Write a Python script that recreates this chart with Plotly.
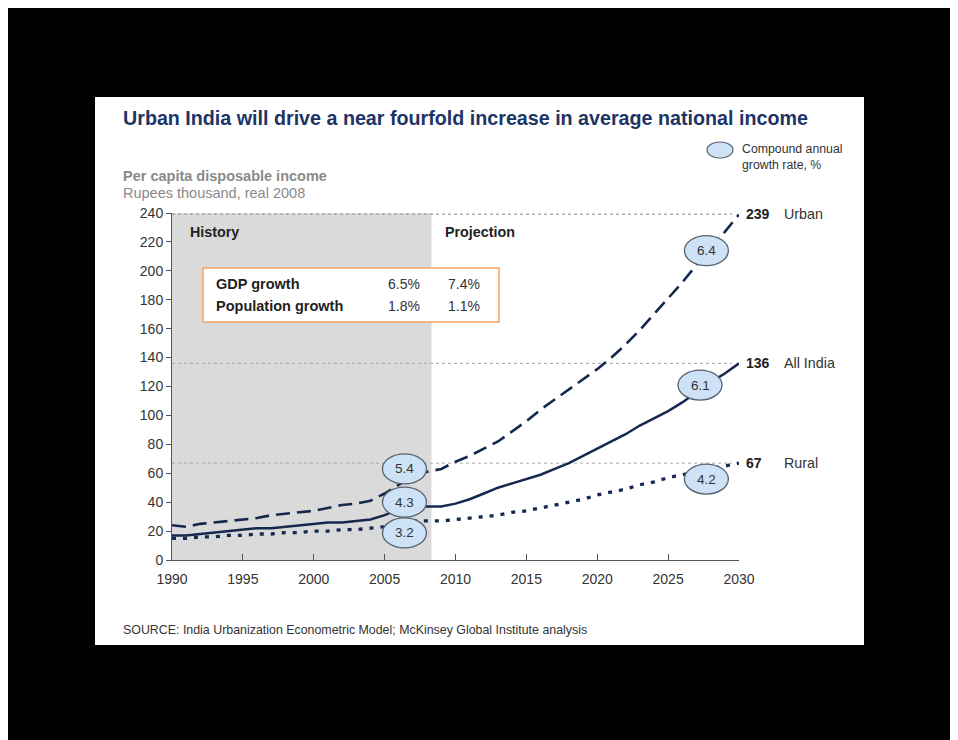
import plotly.graph_objects as go

# ---------------- data ----------------
years = list(range(1990, 2031))
urban = [24, 23, 25, 26, 27, 28, 29, 31, 32, 33, 34, 36, 38, 39, 41, 46, 52, 58, 61, 63,
         68, 72, 77, 82, 89, 96, 104, 111, 118, 125, 132, 140, 149, 159, 170, 181, 192, 204, 216, 227, 239]
all_india = [17, 17, 18, 19, 20, 21, 22, 22, 23, 24, 25, 26, 26, 27, 28, 31, 35, 37, 37, 37,
             39, 42, 46, 50, 53, 56, 59, 63, 67, 72, 77, 82, 87, 93, 98, 103, 109, 116, 123, 129, 136]
rural = [15, 15, 16, 16, 17, 17, 18, 18, 19, 19, 20, 20, 21, 21, 22, 23, 25, 27, 27, 27,
         28, 29, 30, 31, 33, 34, 36, 38, 40, 42, 45, 47, 49, 52, 54, 57, 59, 61, 63, 65, 67]

series_names = ["Urban", "All India", "Rural"]
end_values = [239, 136, 67]
cagr_history = ["5.4", "4.3", "3.2"]
cagr_projection = ["6.4", "6.1", "4.2"]
history_end = 2008.3

table_rows = ["GDP growth", "Population growth"]
table_history = ["6.5%", "1.8%"]
table_projection = ["7.4%", "1.1%"]

y_ticks = list(range(0, 241, 20))
x_ticks = list(range(1990, 2031, 5))

# ---------------- layout helpers ----------------
OFF = 8                     # page body margin
W, H = 958 - OFF, 740 - OFF
PL, PR, PT, PB = 172, 739, 213, 560   # plot area in target-picture pixels


def px(x):
    return (x - PL) / (PR - PL)


def py(y):
    return (PB - y) / (PB - PT)


FONT = "Liberation Sans, Arial, sans-serif"
NAVY = "#15294f"
TXT = "#222222"

fig = go.Figure()

line_styles = [dict(dash="14px,7px", width=2.6),
               dict(dash="solid", width=2.5),
               dict(dash="4px,7px", width=3.3)]
for name, vals, st in zip(series_names, [urban, all_india, rural], line_styles):
    fig.add_trace(go.Scatter(x=years, y=vals, mode="lines", name=name,
                             line=dict(color=NAVY, width=st["width"], dash=st["dash"]),
                             hoverinfo="skip"))

shapes = []
# white panel
shapes.append(dict(type="rect", xref="paper", yref="paper", x0=px(95), x1=px(864), y0=py(645), y1=py(97),
                   fillcolor="white", line=dict(width=0), layer="below"))
# history shading
shapes.append(dict(type="rect", xref="x", yref="y", x0=1990, x1=history_end, y0=0, y1=240,
                   fillcolor="#dadada", line=dict(width=0), layer="below"))
# reference dotted lines at end values
for v in end_values:
    shapes.append(dict(type="line", xref="x", yref="y", x0=1990, x1=2029.5, y0=v, y1=v,
                       line=dict(color="#a8a8a8", width=1, dash="dot"), layer="below"))
shapes.append(dict(type="line", xref="x", yref="y", x0=1990, x1=2029.5, y0=240, y1=240,
                   line=dict(color="#b0b0b0", width=1, dash="dot"), layer="below"))
# growth table box
shapes.append(dict(type="rect", xref="paper", yref="paper", x0=px(203), x1=px(499), y0=py(322), y1=py(268),
                   fillcolor="white", line=dict(color="#efa46a", width=1.5), layer="above"))

BUB_FILL = "#cde2f6"
BUB_LINE = "#56626e"
hist_pos = [(2006.4, 63), (2006.4, 40), (2006.4, 18.7)]
proj_pos = [(2027.7, 214), (2027.25, 121), (2027.7, 56)]
annotations = []
for labels, positions in [(cagr_history, hist_pos), (cagr_projection, proj_pos)]:
    for lab, (bx, by) in zip(labels, positions):
        shapes.append(dict(type="circle", xref="x", yref="y", xsizemode="pixel", ysizemode="pixel",
                           xanchor=bx, yanchor=by, x0=-22, x1=22, y0=-15, y1=15,
                           fillcolor=BUB_FILL, line=dict(color=BUB_LINE, width=1.3), layer="above"))
        annotations.append(dict(x=bx, y=by, xref="x", yref="y", text=lab, showarrow=False,
                                font=dict(family=FONT, size=13.5, color="#333333")))

# legend ellipse
shapes.append(dict(type="circle", xref="paper", yref="paper", x0=px(707), x1=px(733), y0=py(158), y1=py(142),
                   fillcolor=BUB_FILL, line=dict(color=BUB_LINE, width=1.2)))


def ann(x, y, text, size=13, color=TXT, bold=False, xanchor="left"):
    t = f"<b>{text}</b>" if bold else text
    annotations.append(dict(x=px(x), y=py(y), xref="paper", yref="paper", text=t, showarrow=False,
                            xanchor=xanchor, yanchor="middle", align="left",
                            font=dict(family=FONT, size=size, color=color)))


ann(121, 118, "Urban India will drive a near fourfold increase in average national income", size=19.7,
    color="#1d3466", bold=True)
ann(121, 176, "Per capita disposable income", size=14.5, color="#8a8a8a", bold=True)
ann(121, 193, "Rupees thousand, real 2008", size=14.5, color="#8a8a8a")
ann(740, 157, "Compound annual<br>growth rate, %", size=12.3, color="#333333")
ann(188, 232, "History", size=14.3, bold=True)
ann(443, 232, "Projection", size=14.3, bold=True)
for i, (row, h, p) in enumerate(zip(table_rows, table_history, table_projection)):
    yy = 284 + i * 22
    ann(214, yy, row, size=14.5, bold=True)
    ann(422, yy, h, size=14, color="#333333", xanchor="right")
    ann(482, yy, p, size=14, color="#333333", xanchor="right")
for name, v in zip(series_names, end_values):
    ypix = PB - v * (PB - PT) / 240
    ann(744, ypix, str(v), size=14, bold=True)
    ann(782, ypix, name, size=14.3, color="#333333")
ann(121, 630, "SOURCE: India Urbanization Econometric Model; McKinsey Global Institute analysis",
    size=12.4, color="#333333")

fig.update_layout(
    width=W, height=H,
    margin=dict(l=PL - OFF, r=958 - PR, t=PT - OFF, b=740 - PB, pad=0),
    paper_bgcolor="black", plot_bgcolor="rgba(0,0,0,0)",
    showlegend=False,
    shapes=shapes, annotations=annotations,
    font=dict(family=FONT, color="#333333"),
    xaxis=dict(range=[1990, 2030], tickvals=x_ticks, ticks="inside", ticklen=6, tickcolor="#555",
               showline=True, linecolor="#555", linewidth=1, showgrid=False, zeroline=False,
               ticklabelstandoff=6,
               tickfont=dict(size=14, color="#333"), fixedrange=True),
    yaxis=dict(range=[0, 240], tickvals=y_ticks, ticks="outside", ticklen=5, tickcolor="#555",
               showline=True, linecolor="#555", linewidth=1, showgrid=False, zeroline=False,
               tickfont=dict(size=14, color="#333"), fixedrange=True),
)

fig.write_html("out.html")
